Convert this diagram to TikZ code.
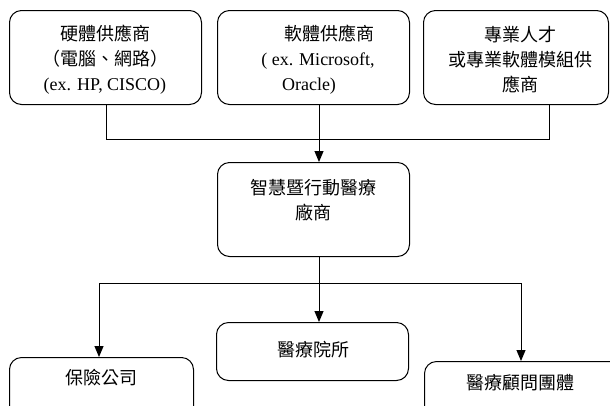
\documentclass[tikz,border=0pt]{standalone}
\usepackage{fontspec}
\setmainfont{Liberation Serif}
\newfontfamily\cjk{Noto Sans CJK TC}
\usetikzlibrary{arrows.meta}
\begin{document}
\begin{tikzpicture}[x=1pt,y=-1pt,
  box/.style={draw,line width=1pt,rounded corners=12pt,inner sep=0pt,anchor=north west},
  txt/.style={align=center,inner sep=0pt,font=\fontsize{18}{25}\selectfont},
  conn/.style={line width=1pt},
  arr/.style={conn,-{Triangle[width=9pt,length=11pt]}}]
\useasboundingbox (0,0) rectangle (610,405);
\clip (0,0) rectangle (610,405);
% boxes
\node[box,minimum width=192pt,minimum height=94pt] (b1) at (9,10) {};
\node[box,minimum width=192pt,minimum height=94pt] (b2) at (217,10) {};
\node[box,minimum width=185pt,minimum height=94pt] (b3) at (423,10) {};
\node[box,minimum width=192pt,minimum height=94pt] (m) at (217,162) {};
\node[box,minimum width=184pt,minimum height=80pt] (c1) at (9,357) {};
\node[box,minimum width=192pt,minimum height=58pt] (c2) at (216,322) {};
\node[box,minimum width=200pt,minimum height=80pt] (c3) at (424,361) {};
% texts
\node[txt] (t1) at (105,60) {{\cjk 硬體供應商}\\{\cjk （電腦、網路）}\\(ex. HP, CISCO)};
\node[txt] (t2) at (318,60) {\hspace*{22pt}{\cjk 軟體供應商}\\( ex. Microsoft,\\Oracle)\hspace*{18pt}};
\node[txt] (t3) at (520,60) {{\cjk 專業人才}\\{\cjk 或專業軟體模組供}\\{\cjk 應商}};
\node[txt] (tm) at (313,200) {{\cjk 智慧暨行動醫療}\\{\cjk 廠商}};
\node[txt] (tc1) at (101,378) {\cjk 保險公司};
\node[txt] (tc2) at (313,350) {\cjk 醫療院所};
\node[txt] (tc3) at (520,383) {\cjk 醫療顧問團體};
% connector points
\coordinate (s1) at ([xshift=97pt]b1.south west);
\coordinate (s2) at ([xshift=102pt]b2.south west);
\coordinate (s3) at ([xshift=126pt]b3.south west);
\coordinate (ms) at ([xshift=102pt]m.south west);
\coordinate (e1) at ([xshift=90pt]c1.north west);
\coordinate (e3) at ([xshift=97pt]c3.north west);
% top connectors
\draw[conn] (s1) -- (s1 |- 0,139) -- (s3 |- 0,139) -- (s3);
\draw[arr] (s2) -- (s2 |- m.north);
% bottom connectors
\draw[conn] (ms) -- (ms |- 0,283);
\draw[conn] (e1 |- 0,283) -- (e3 |- 0,283);
\draw[arr] (ms |- 0,283) -- (ms |- c2.north);
\draw[arr] (e1 |- 0,283) -- (e1);
\draw[arr] (e3 |- 0,283) -- (e3);
\end{tikzpicture}
\end{document}
